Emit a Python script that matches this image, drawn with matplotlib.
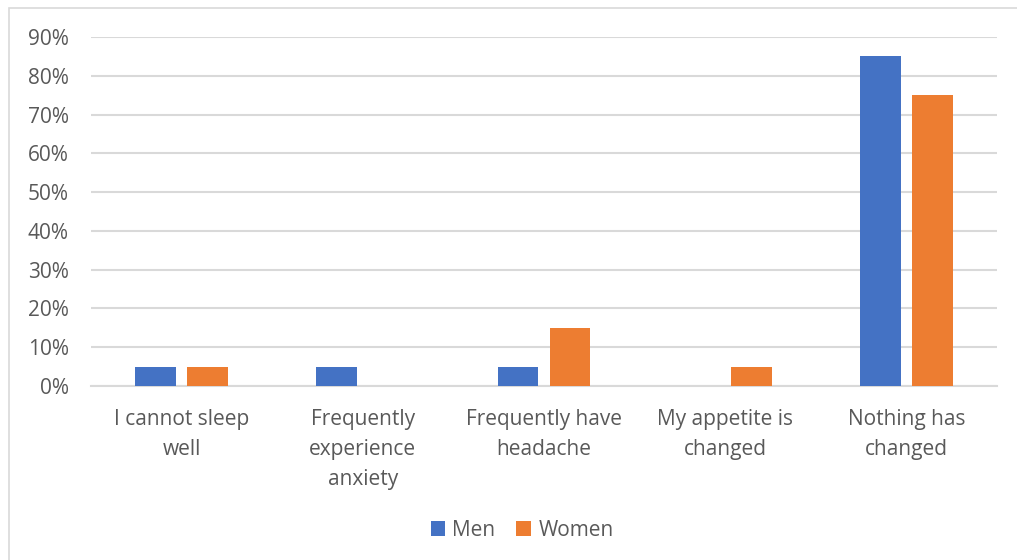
import matplotlib
matplotlib.use("Agg")
import matplotlib.pyplot as plt
import numpy as np
from matplotlib.patches import Rectangle

categories = ["I cannot sleep\nwell", "Frequently\nexperience\nanxiety",
              "Frequently have\nheadache", "My appetite is\nchanged", "Nothing has\nchanged"]
men = [5, 5, 5, 0, 85]
women = [5, 0, 15, 5, 75]
yticks = [0, 10, 20, 30, 40, 50, 60, 70, 80, 90]

plt.rcParams["font.family"] = ["Open Sans", "DejaVu Sans"]
text_color = "#595959"
grid_color = "#D9D9D9"

fig = plt.figure(figsize=(10.17, 5.6), dpi=100)
ax = fig.add_axes([91 / 1017, 174 / 560, 906 / 1017, 349 / 560])

# outer chart frame
fig.patches.append(Rectangle((9 / 1017, -0.1), 1.2, (560 - 8) / 560 + 0.1,
                             transform=fig.transFigure, fill=False,
                             edgecolor=grid_color, linewidth=1.2))

x = np.arange(len(categories))
w = 0.226
off = 0.1435
ax.bar(x - off, men, width=w, color="#4472C4", label="Men", zorder=3)
ax.bar(x + off, women, width=w, color="#ED7D31", label="Women", zorder=3)

ax.set_xlim(-0.5, len(categories) - 0.5)
ax.set_ylim(0, 90)
ax.set_yticks(yticks)
ax.set_yticklabels([f"{v}%" for v in yticks])
ax.yaxis.grid(True, color=grid_color, linewidth=1.5, zorder=0)
ax.set_axisbelow(True)
for s in ["top", "right", "left"]:
    ax.spines[s].set_visible(False)
ax.spines["bottom"].set_color(grid_color)
ax.spines["bottom"].set_linewidth(1.5)
ax.tick_params(axis="both", length=0, colors=text_color, labelsize=15)
ax.tick_params(axis="y", pad=16)
ax.tick_params(axis="x", pad=16.5)
ax.set_xticks(x)
ax.set_xticklabels(categories, linespacing=1.56)

leg = fig.legend(loc="center", bbox_to_anchor=(522 / 1017, 1 - 530 / 560), ncol=2,
                 frameon=False, fontsize=15, handlelength=0.7, handleheight=0.7,
                 handletextpad=0.35, columnspacing=1.0)
for t in leg.get_texts():
    t.set_color(text_color)

fig.savefig("out.png", dpi=100)
